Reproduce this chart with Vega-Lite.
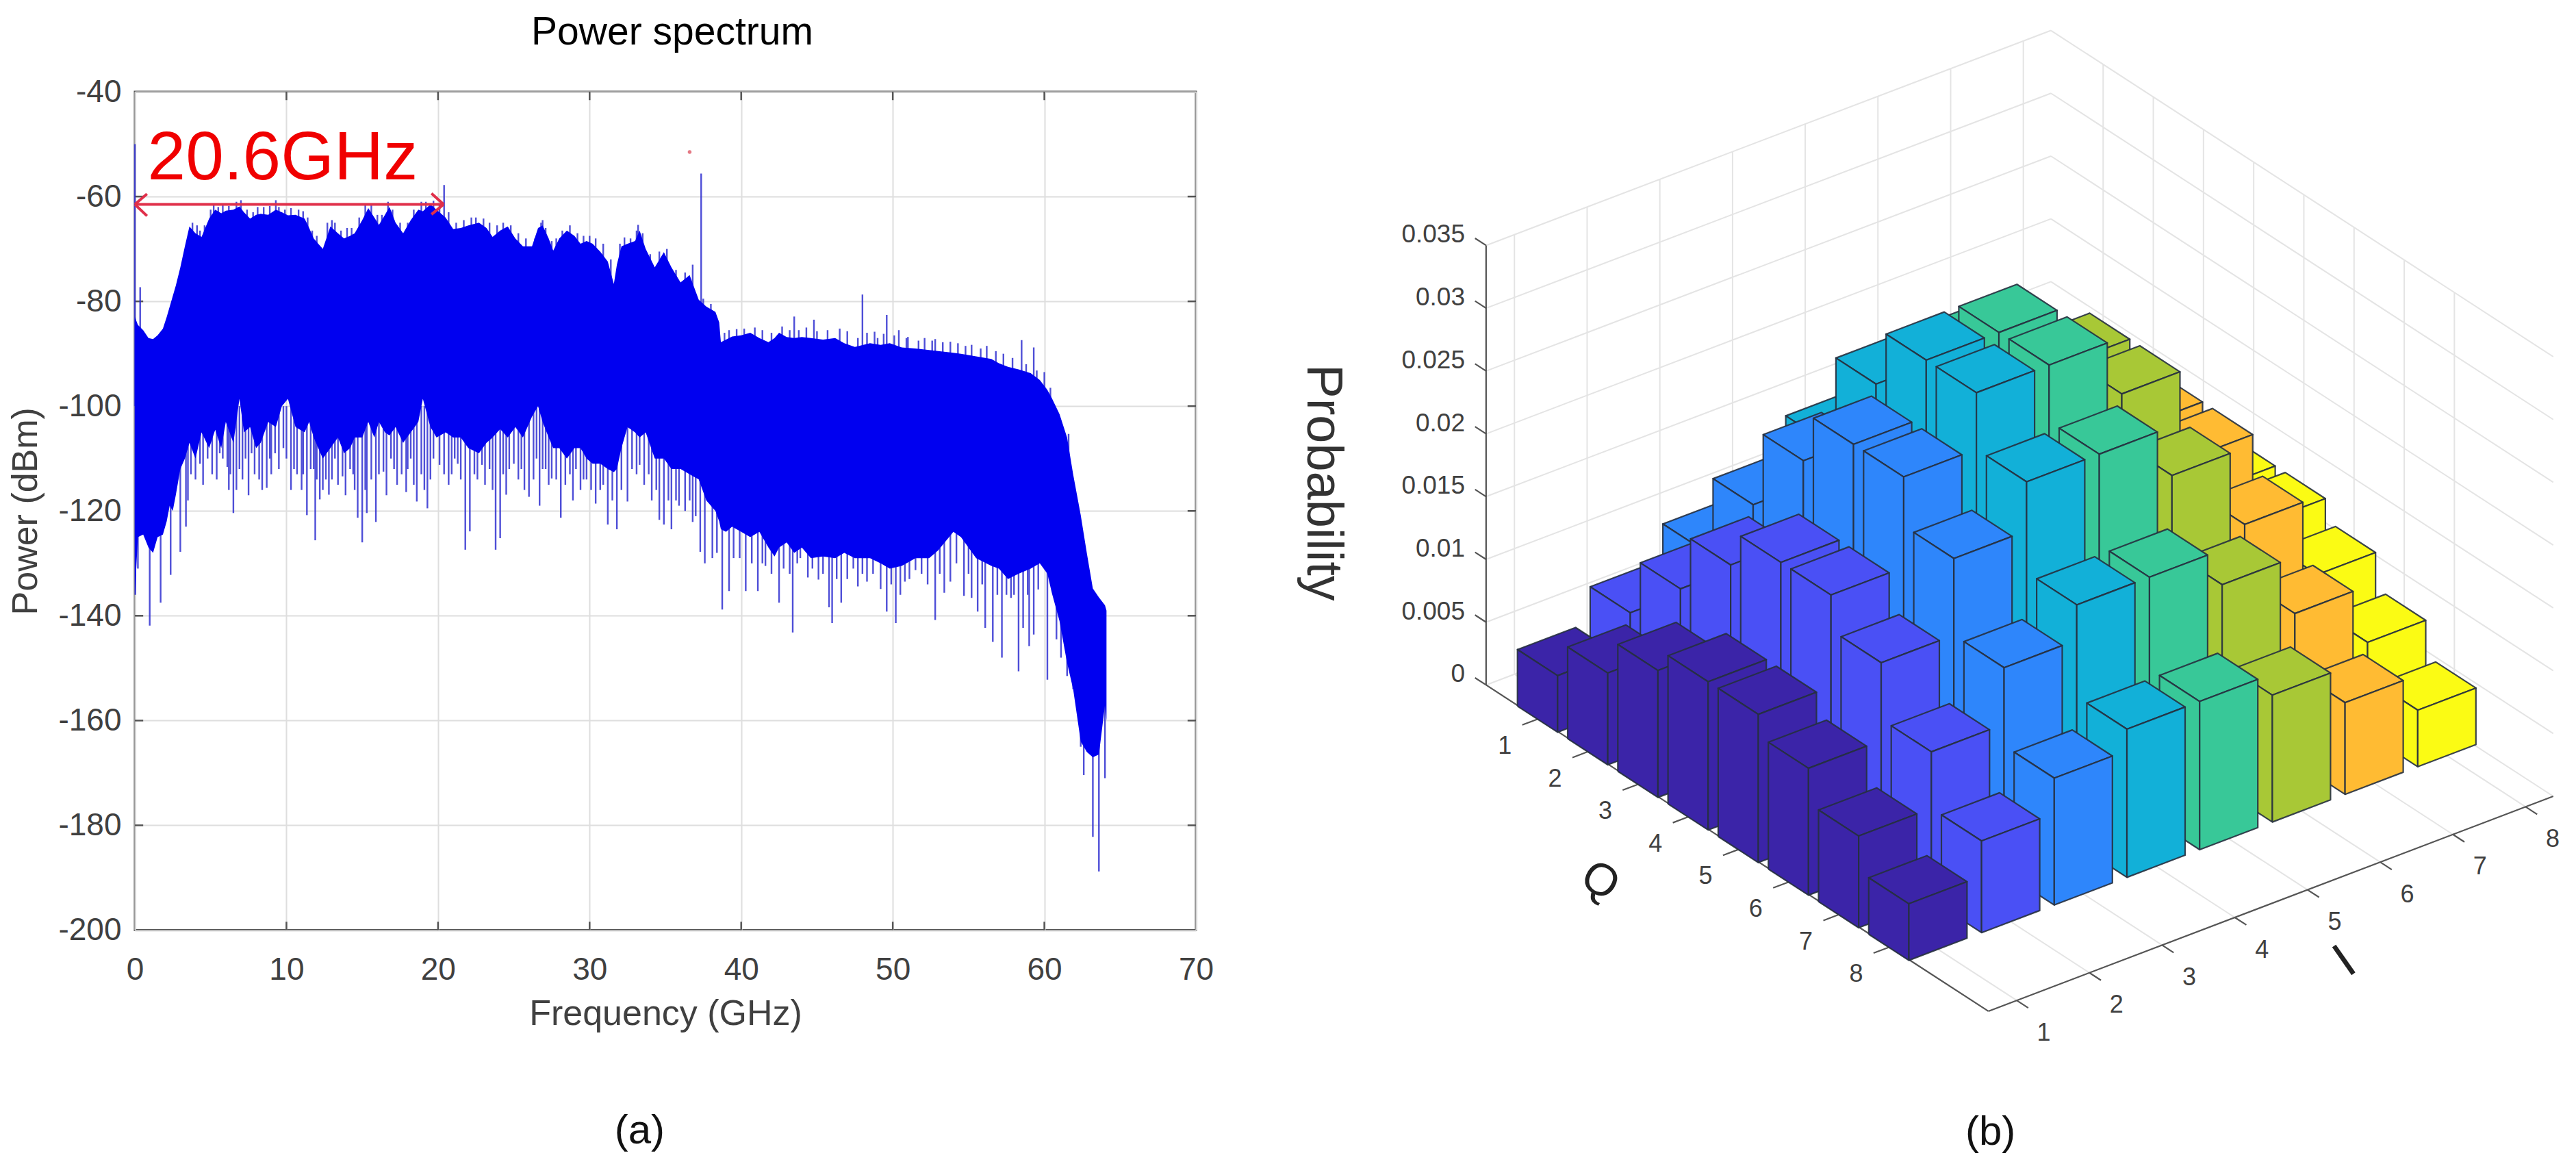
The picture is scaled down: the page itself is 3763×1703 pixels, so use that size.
{"$schema":"https://vega.github.io/schema/vega-lite/v6.json","background":"white","padding":{"left":10,"top":17,"right":0,"bottom":0},"bounds":"flush","spacing":51.5,"config":{"text":{"font":"Liberation Sans"},"title":{"font":"Liberation Sans"},"axis":{"labelFont":"Liberation Sans","titleFont":"Liberation Sans"}},
"datasets":{
"spectrum":[{"f":0,"p":-83,"p2":-136},{"f":0.2,"p":-84.5,"p2":-125},{"f":0.55,"p":-85.5,"p2":-124.5},{"f":0.9,"p":-87,"p2":-127},{"f":1.2,"p":-87.2,"p2":-128},{"f":1.5,"p":-86.5,"p2":-125},{"f":1.85,"p":-85.2,"p2":-124.5},{"f":2.1,"p":-83,"p2":-122},{"f":2.3,"p":-81,"p2":-119},{"f":2.5,"p":-79,"p2":-120},{"f":2.7,"p":-77,"p2":-117},{"f":3,"p":-73.5,"p2":-112},{"f":3.3,"p":-69.5,"p2":-110},{"f":3.6,"p":-65.7,"p2":-107},{"f":4,"p":-67,"p2":-110},{"f":4.4,"p":-67.7,"p2":-105},{"f":4.9,"p":-64.2,"p2":-108},{"f":5.3,"p":-62.5,"p2":-104.5},{"f":5.7,"p":-63.2,"p2":-108},{"f":6,"p":-62.7,"p2":-103},{"f":6.5,"p":-62.5,"p2":-107},{"f":6.9,"p":-61.9,"p2":-98.6},{"f":7.2,"p":-63,"p2":-105},{"f":7.6,"p":-64.2,"p2":-104},{"f":8,"p":-63.5,"p2":-108},{"f":8.3,"p":-63.3,"p2":-107},{"f":8.8,"p":-63.5,"p2":-103},{"f":9.3,"p":-62.5,"p2":-104},{"f":9.7,"p":-63,"p2":-100},{"f":10.1,"p":-63.6,"p2":-98.6},{"f":10.6,"p":-63.5,"p2":-104},{"f":11.2,"p":-64.2,"p2":-105},{"f":11.5,"p":-66,"p2":-103},{"f":11.8,"p":-68,"p2":-106},{"f":12.1,"p":-69,"p2":-108},{"f":12.4,"p":-70,"p2":-110},{"f":12.9,"p":-65.7,"p2":-108},{"f":13.4,"p":-67,"p2":-106},{"f":13.8,"p":-68,"p2":-109},{"f":14.2,"p":-67.5,"p2":-108},{"f":14.5,"p":-67,"p2":-106},{"f":15,"p":-64.5,"p2":-106},{"f":15.4,"p":-62.2,"p2":-103},{"f":15.8,"p":-64,"p2":-106},{"f":16.1,"p":-65.4,"p2":-103},{"f":16.5,"p":-63.5,"p2":-105},{"f":16.8,"p":-62,"p2":-105.6},{"f":17.2,"p":-65,"p2":-104},{"f":17.7,"p":-67,"p2":-107},{"f":18.2,"p":-64.5,"p2":-105},{"f":18.7,"p":-62.5,"p2":-103},{"f":19,"p":-62.8,"p2":-98.6},{"f":19.5,"p":-61.5,"p2":-104},{"f":19.9,"p":-62.5,"p2":-106},{"f":20.5,"p":-64,"p2":-105},{"f":21,"p":-66.2,"p2":-106},{"f":21.5,"p":-66,"p2":-106},{"f":22,"p":-65.5,"p2":-108},{"f":22.7,"p":-65,"p2":-109},{"f":23.2,"p":-66,"p2":-107},{"f":23.6,"p":-67.7,"p2":-106},{"f":24.1,"p":-66.5,"p2":-104.4},{"f":24.6,"p":-65.7,"p2":-106},{"f":25.1,"p":-68,"p2":-104},{"f":25.6,"p":-69.5,"p2":-106},{"f":26.2,"p":-69.5,"p2":-102},{"f":26.6,"p":-66,"p2":-100},{"f":26.9,"p":-65.5,"p2":-103},{"f":27.3,"p":-68,"p2":-106},{"f":27.6,"p":-70.3,"p2":-108},{"f":28,"p":-68,"p2":-108},{"f":28.5,"p":-66.5,"p2":-110},{"f":29,"p":-67.5,"p2":-108},{"f":29.4,"p":-69,"p2":-108},{"f":29.8,"p":-68.5,"p2":-110},{"f":30.2,"p":-69,"p2":-111},{"f":30.7,"p":-70.5,"p2":-111},{"f":31.2,"p":-72.4,"p2":-112},{"f":31.6,"p":-76.7,"p2":-112.6},{"f":31.8,"p":-73,"p2":-112},{"f":32.1,"p":-69.5,"p2":-108},{"f":32.5,"p":-69,"p2":-104},{"f":33,"p":-68.5,"p2":-105},{"f":33.3,"p":-66.5,"p2":-106},{"f":33.7,"p":-70,"p2":-105},{"f":34.3,"p":-73.5,"p2":-110},{"f":34.9,"p":-70.6,"p2":-110},{"f":35.4,"p":-73.5,"p2":-112},{"f":36,"p":-76.4,"p2":-112},{"f":36.6,"p":-75,"p2":-113},{"f":37.2,"p":-79.7,"p2":-114},{"f":37.7,"p":-81,"p2":-118},{"f":38.3,"p":-82,"p2":-120},{"f":38.55,"p":-84,"p2":-122},{"f":38.66,"p":-87.8,"p2":-123.5},{"f":39,"p":-87.3,"p2":-124},{"f":39.4,"p":-86.7,"p2":-123},{"f":40,"p":-86.5,"p2":-124},{"f":40.6,"p":-86,"p2":-125},{"f":41.2,"p":-87,"p2":-124},{"f":41.8,"p":-87.8,"p2":-127},{"f":42.2,"p":-87,"p2":-128.7},{"f":42.5,"p":-86,"p2":-127},{"f":43,"p":-86.8,"p2":-126},{"f":43.5,"p":-87,"p2":-128},{"f":44,"p":-86.8,"p2":-127},{"f":44.6,"p":-87,"p2":-129},{"f":45.4,"p":-87.3,"p2":-128.7},{"f":46.2,"p":-87,"p2":-129},{"f":46.8,"p":-88,"p2":-128},{"f":47.5,"p":-88.7,"p2":-129},{"f":48.5,"p":-88,"p2":-129},{"f":49.2,"p":-88.3,"p2":-130},{"f":49.8,"p":-88,"p2":-131},{"f":50.6,"p":-88.8,"p2":-130.5},{"f":51.5,"p":-89,"p2":-129},{"f":52.4,"p":-89.3,"p2":-129},{"f":53,"p":-89.5,"p2":-127.5},{"f":54,"p":-89.8,"p2":-124},{"f":54.5,"p":-90,"p2":-125},{"f":55.5,"p":-90.5,"p2":-129},{"f":56.5,"p":-91,"p2":-130.5},{"f":57,"p":-91.8,"p2":-131},{"f":57.6,"p":-92.5,"p2":-133},{"f":58.3,"p":-93,"p2":-132},{"f":59.1,"p":-93.7,"p2":-131},{"f":59.7,"p":-95,"p2":-130},{"f":60.2,"p":-96.9,"p2":-132},{"f":60.5,"p":-98.5,"p2":-135.7},{"f":61,"p":-101.5,"p2":-141},{"f":61.5,"p":-106,"p2":-149},{"f":61.9,"p":-113,"p2":-154},{"f":62.4,"p":-120.8,"p2":-164},{"f":62.8,"p":-128,"p2":-166},{"f":63.2,"p":-134.8,"p2":-167},{"f":63.6,"p":-136.5,"p2":-166.5},{"f":64,"p":-138,"p2":-157},{"f":64.1,"p":-139,"p2":-160}],
"spikes":[{"f":0,"p":-50,"p2":-100},{"f":0.35,"p":-77.3,"p2":-100},{"f":20.4,"p":-57.8,"p2":-80},{"f":9.3,"p":-60.7,"p2":-80},{"f":26.9,"p":-64.5,"p2":-80},{"f":33.2,"p":-65.4,"p2":-80},{"f":37.36,"p":-55.6,"p2":-90},{"f":43.5,"p":-82.9,"p2":-100},{"f":44.8,"p":-83.5,"p2":-100},{"f":48,"p":-78.7,"p2":-100},{"f":48.8,"p":-85.8,"p2":-100},{"f":49.6,"p":-82.6,"p2":-100},{"f":50.9,"p":-87,"p2":-100},{"f":52.8,"p":-87.2,"p2":-100},{"f":58.5,"p":-87.4,"p2":-100},{"f":59.3,"p":-88.8,"p2":-100},{"f":61.6,"p":-105.3,"p2":-120},
{"f":3.8,"p":-65,"p2":-80},{"f":4.1,"p":-65.5,"p2":-80},{"f":4.3,"p":-66.5,"p2":-80},{"f":4.6,"p":-65.5,"p2":-80},{"f":5,"p":-62.5,"p2":-80},{"f":5.2,"p":-61.5,"p2":-80},{"f":5.5,"p":-62,"p2":-80},{"f":5.8,"p":-61.5,"p2":-80},{"f":6.2,"p":-61.8,"p2":-80},{"f":6.7,"p":-61,"p2":-80},{"f":7,"p":-60.7,"p2":-80},{"f":7.4,"p":-62.5,"p2":-80},{"f":7.8,"p":-63,"p2":-80},{"f":8.1,"p":-62,"p2":-80},{"f":8.5,"p":-62,"p2":-80},{"f":8.9,"p":-61.8,"p2":-80},{"f":9.5,"p":-62,"p2":-80},{"f":9.9,"p":-62.5,"p2":-80},{"f":10.3,"p":-62.2,"p2":-80},{"f":10.8,"p":-62.5,"p2":-80},{"f":11.1,"p":-62.8,"p2":-80},{"f":11.4,"p":-64,"p2":-80},{"f":11.7,"p":-66.5,"p2":-80},{"f":12,"p":-67.5,"p2":-80},{"f":12.7,"p":-65,"p2":-80},{"f":13,"p":-64.5,"p2":-80},{"f":13.2,"p":-65,"p2":-80},{"f":13.6,"p":-66.5,"p2":-80},{"f":14,"p":-66,"p2":-80},{"f":14.3,"p":-66,"p2":-80},{"f":14.8,"p":-64,"p2":-80},{"f":15.2,"p":-61.5,"p2":-80},{"f":15.6,"p":-61.5,"p2":-80},{"f":16,"p":-63.5,"p2":-80},{"f":16.3,"p":-63.5,"p2":-80},{"f":16.7,"p":-61,"p2":-80},{"f":17,"p":-62.5,"p2":-80},{"f":17.5,"p":-65,"p2":-80},{"f":18,"p":-65,"p2":-80},{"f":18.4,"p":-62.5,"p2":-80},{"f":18.9,"p":-61,"p2":-80},{"f":19.2,"p":-61,"p2":-80},{"f":19.7,"p":-60.8,"p2":-80},{"f":20.1,"p":-61.5,"p2":-80},{"f":20.7,"p":-63,"p2":-80},{"f":21.2,"p":-65,"p2":-80},{"f":21.7,"p":-64.5,"p2":-80},{"f":22.2,"p":-64,"p2":-80},{"f":22.5,"p":-64,"p2":-80},{"f":23,"p":-64.2,"p2":-80},{"f":23.4,"p":-65,"p2":-80},{"f":23.9,"p":-65.5,"p2":-80},{"f":24.3,"p":-65,"p2":-80},{"f":24.8,"p":-65.5,"p2":-80},{"f":25.3,"p":-67,"p2":-80},{"f":25.8,"p":-68,"p2":-80},{"f":26.4,"p":-68,"p2":-80},{"f":26.8,"p":-65,"p2":-80},{"f":27.1,"p":-66,"p2":-80},{"f":27.5,"p":-68.5,"p2":-80},{"f":27.8,"p":-68,"p2":-80},{"f":28.2,"p":-66.5,"p2":-80},{"f":28.7,"p":-65.5,"p2":-80},{"f":29.2,"p":-67,"p2":-80},{"f":29.6,"p":-67.5,"p2":-80},{"f":30,"p":-67.5,"p2":-80},{"f":30.4,"p":-68,"p2":-80},{"f":30.9,"p":-69,"p2":-80},{"f":31.4,"p":-72,"p2":-80},{"f":32,"p":-69,"p2":-80},{"f":32.3,"p":-67.8,"p2":-80},{"f":32.7,"p":-68,"p2":-80},{"f":33.1,"p":-66.5,"p2":-80},{"f":33.5,"p":-67,"p2":-80},{"f":34,"p":-71,"p2":-80},{"f":34.6,"p":-70.5,"p2":-80},{"f":35.1,"p":-70,"p2":-80},{"f":35.7,"p":-74,"p2":-85},{"f":36.3,"p":-74.5,"p2":-85},{"f":36.8,"p":-73,"p2":-85},{"f":37.5,"p":-79.5,"p2":-90},{"f":38,"p":-80.5,"p2":-90},
{"f":38.9,"p":-86,"p2":-95},{"f":39.2,"p":-85.5,"p2":-95},{"f":39.7,"p":-85.3,"p2":-95},{"f":40.2,"p":-85.2,"p2":-95},{"f":40.9,"p":-85,"p2":-95},{"f":41.4,"p":-85.5,"p2":-95},{"f":42,"p":-86,"p2":-95},{"f":42.7,"p":-84.8,"p2":-95},{"f":43.2,"p":-85.5,"p2":-95},{"f":43.8,"p":-85.5,"p2":-95},{"f":44.3,"p":-85,"p2":-95},{"f":45,"p":-85.7,"p2":-95},{"f":45.7,"p":-85.5,"p2":-95},{"f":46.5,"p":-85.2,"p2":-95},{"f":47,"p":-85.7,"p2":-95},{"f":47.7,"p":-87,"p2":-95},{"f":48.3,"p":-86,"p2":-95},{"f":49,"p":-87,"p2":-95},{"f":49.4,"p":-86.2,"p2":-95},{"f":50.1,"p":-86.5,"p2":-95},{"f":50.4,"p":-85.5,"p2":-95},{"f":51,"p":-86.8,"p2":-95},{"f":51.7,"p":-87.5,"p2":-95},{"f":52.1,"p":-87,"p2":-95},{"f":52.6,"p":-87.5,"p2":-95},{"f":53.3,"p":-87.8,"p2":-95},{"f":53.8,"p":-87.7,"p2":-95},{"f":54.3,"p":-88,"p2":-95},{"f":54.8,"p":-88.5,"p2":-95},{"f":55.2,"p":-88.3,"p2":-95},{"f":55.8,"p":-89,"p2":-95},{"f":56.2,"p":-88.5,"p2":-95},{"f":56.8,"p":-89.5,"p2":-95},{"f":57.3,"p":-90,"p2":-95},{"f":57.9,"p":-90.8,"p2":-95},{"f":58.8,"p":-92,"p2":-98},{"f":59.5,"p":-93.2,"p2":-98},{"f":60,"p":-93.5,"p2":-100},{"f":60.4,"p":-96.5,"p2":-105},
{"f":0.03,"p":-100,"p2":-136},{"f":0.2,"p":-100,"p2":-131},{"f":0.98,"p":-100,"p2":-141.9},{"f":1.7,"p":-100,"p2":-137.5},{"f":2.36,"p":-100,"p2":-132.2},{"f":3,"p":-100,"p2":-127.8},{"f":3.37,"p":-100,"p2":-123},{"f":3.7,"p":-100,"p2":-113},{"f":4.5,"p":-100,"p2":-115},{"f":4.8,"p":-100,"p2":-110},{"f":5.1,"p":-100,"p2":-113},{"f":5.6,"p":-100,"p2":-109},{"f":6.1,"p":-100,"p2":-111.6},{"f":6.3,"p":-100,"p2":-113},{"f":6.5,"p":-100,"p2":-120.4},{"f":6.7,"p":-100,"p2":-116},{"f":7.1,"p":-100,"p2":-114},{"f":7.7,"p":-100,"p2":-109},{"f":8.2,"p":-100,"p2":-114},{"f":8.7,"p":-100,"p2":-115.6},{"f":9.25,"p":-100,"p2":-109},{"f":9.8,"p":-100,"p2":-108},{"f":10.3,"p":-100,"p2":-116},{"f":11,"p":-100,"p2":-116},{"f":11.35,"p":-100,"p2":-120.8},{"f":11.6,"p":-100,"p2":-112},{"f":11.9,"p":-100,"p2":-125.6},{"f":12.2,"p":-100,"p2":-117.8},{"f":12.8,"p":-100,"p2":-116.9},{"f":13.2,"p":-100,"p2":-110},{"f":13.7,"p":-100,"p2":-113.4},{"f":14.2,"p":-100,"p2":-112},{"f":14.7,"p":-100,"p2":-121.3},{"f":15,"p":-100,"p2":-126},{"f":15.3,"p":-100,"p2":-120.4},{"f":15.9,"p":-100,"p2":-122.1},{"f":16.4,"p":-100,"p2":-112.5},{"f":16.9,"p":-100,"p2":-110},{"f":17.3,"p":-100,"p2":-115},{"f":17.9,"p":-100,"p2":-116.4},{"f":18.2,"p":-100,"p2":-110},{"f":18.6,"p":-100,"p2":-118.2},{"f":19.3,"p":-100,"p2":-119.5},{"f":19.7,"p":-100,"p2":-110},{"f":20.1,"p":-100,"p2":-111.2},{"f":20.9,"p":-100,"p2":-113},{"f":21.3,"p":-100,"p2":-111},{"f":21.8,"p":-100,"p2":-127.4},{"f":22.1,"p":-100,"p2":-123.9},{"f":22.9,"p":-100,"p2":-111.2},{"f":23.4,"p":-100,"p2":-112},{"f":23.8,"p":-100,"p2":-127.4},{"f":24.1,"p":-100,"p2":-125.2},{"f":24.5,"p":-100,"p2":-116.9},{"f":25,"p":-100,"p2":-111},{"f":25.5,"p":-100,"p2":-112},{"f":26,"p":-100,"p2":-117.3},{"f":26.7,"p":-100,"p2":-119},{"f":27.1,"p":-100,"p2":-112},{"f":27.5,"p":-100,"p2":-113.8},{"f":28.1,"p":-100,"p2":-121.3},{"f":28.7,"p":-100,"p2":-113},{"f":29.1,"p":-100,"p2":-112},{"f":29.8,"p":-100,"p2":-114},{"f":30.4,"p":-100,"p2":-118.6},{"f":30.9,"p":-100,"p2":-115},{"f":31.2,"p":-100,"p2":-122.6},{"f":31.8,"p":-100,"p2":-123.5},{"f":32.5,"p":-100,"p2":-118.2},{"f":33.3,"p":-100,"p2":-111.2},{"f":33.9,"p":-100,"p2":-113},{"f":34.6,"p":-100,"p2":-121.7},{"f":34.9,"p":-100,"p2":-122.6},{"f":35.4,"p":-100,"p2":-123.5},{"f":35.9,"p":-100,"p2":-119},{"f":36.8,"p":-100,"p2":-122.1},{"f":37.3,"p":-100,"p2":-127.8},{"f":37.6,"p":-100,"p2":-130},{"f":38.1,"p":-100,"p2":-129},{"f":38.75,"p":-100,"p2":-138.8},{"f":39.2,"p":-100,"p2":-135.3},{"f":39.9,"p":-100,"p2":-129},{"f":40.3,"p":-100,"p2":-135.3},{"f":41.1,"p":-100,"p2":-135.3},{"f":41.6,"p":-100,"p2":-130.5},{"f":42.5,"p":-100,"p2":-137.5},{"f":43.4,"p":-100,"p2":-143.2},{"f":43.9,"p":-100,"p2":-129},{"f":44.4,"p":-100,"p2":-132.7},{"f":45.1,"p":-100,"p2":-133.1},{"f":45.8,"p":-100,"p2":-138.4},{"f":46,"p":-100,"p2":-141.4},{"f":46.6,"p":-100,"p2":-137.5},{"f":47.7,"p":-100,"p2":-134.4},{"f":48.3,"p":-100,"p2":-133.5},{"f":49.2,"p":-100,"p2":-134.9},{"f":49.6,"p":-100,"p2":-139.2},{"f":50.2,"p":-100,"p2":-141.4},{"f":50.8,"p":-100,"p2":-133.5},{"f":51.5,"p":-100,"p2":-131.3},{"f":52.8,"p":-100,"p2":-140.8},{"f":53.4,"p":-100,"p2":-135.6},{"f":53.8,"p":-100,"p2":-133.5},{"f":54.7,"p":-100,"p2":-136.2},{"f":55.2,"p":-100,"p2":-136.6},{"f":55.6,"p":-100,"p2":-139.2},{"f":56.1,"p":-100,"p2":-142.3},{"f":56.6,"p":-100,"p2":-145},{"f":57.2,"p":-100,"p2":-148},{"f":57.8,"p":-100,"p2":-136.6},{"f":58.3,"p":-100,"p2":-150.6},{"f":58.6,"p":-100,"p2":-142.3},{"f":59,"p":-100,"p2":-145.8},{"f":59.3,"p":-100,"p2":-143.6},{"f":60.2,"p":-110,"p2":-152.2},{"f":60.8,"p":-110,"p2":-144.5},{"f":61.1,"p":-120,"p2":-148},{"f":61.5,"p":-120,"p2":-151.5},{"f":61.9,"p":-125,"p2":-154},{"f":62.4,"p":-140,"p2":-165},{"f":62.6,"p":-140,"p2":-170.4},{"f":63.2,"p":-150,"p2":-182.2},{"f":63.6,"p":-150,"p2":-188.8},{"f":64,"p":-145,"p2":-171},
{"f":3.5,"p":-100,"p2":-118},{"f":4,"p":-100,"p2":-114},{"f":4.3,"p":-100,"p2":-111},{"f":5.4,"p":-100,"p2":-114},{"f":5.8,"p":-100,"p2":-110},{"f":6.2,"p":-100,"p2":-116},{"f":6.9,"p":-100,"p2":-112},{"f":7.3,"p":-100,"p2":-110},{"f":7.5,"p":-100,"p2":-117},{"f":7.9,"p":-100,"p2":-113},{"f":8.4,"p":-100,"p2":-116},{"f":8.9,"p":-100,"p2":-110},{"f":9,"p":-100,"p2":-113},{"f":9.5,"p":-100,"p2":-112},{"f":10,"p":-100,"p2":-110},{"f":10.5,"p":-100,"p2":-112},{"f":10.7,"p":-100,"p2":-113},{"f":11.1,"p":-100,"p2":-113},{"f":11.8,"p":-100,"p2":-112},{"f":12,"p":-100,"p2":-114},{"f":12.4,"p":-100,"p2":-116},{"f":12.6,"p":-100,"p2":-114},{"f":13,"p":-100,"p2":-114},{"f":13.4,"p":-100,"p2":-115},{"f":13.9,"p":-100,"p2":-117},{"f":14.4,"p":-100,"p2":-113},{"f":14.5,"p":-100,"p2":-116},{"f":15.2,"p":-100,"p2":-116},{"f":15.6,"p":-100,"p2":-114},{"f":16.1,"p":-100,"p2":-113},{"f":16.6,"p":-100,"p2":-117},{"f":17.1,"p":-100,"p2":-112},{"f":17.6,"p":-100,"p2":-113},{"f":18,"p":-100,"p2":-112},{"f":18.4,"p":-100,"p2":-115},{"f":18.9,"p":-100,"p2":-113},{"f":19.1,"p":-100,"p2":-116},{"f":19.5,"p":-100,"p2":-114},{"f":20.4,"p":-100,"p2":-113},{"f":20.7,"p":-100,"p2":-115},{"f":21.1,"p":-100,"p2":-110},{"f":21.5,"p":-100,"p2":-114},{"f":22.4,"p":-100,"p2":-113},{"f":22.6,"p":-100,"p2":-114},{"f":23.1,"p":-100,"p2":-115},{"f":23.6,"p":-100,"p2":-116},{"f":24.3,"p":-100,"p2":-113},{"f":24.7,"p":-100,"p2":-112},{"f":25.3,"p":-100,"p2":-114},{"f":25.7,"p":-100,"p2":-116},{"f":26.3,"p":-100,"p2":-114},{"f":26.5,"p":-100,"p2":-110},{"f":26.9,"p":-100,"p2":-112},{"f":27.3,"p":-100,"p2":-115},{"f":27.8,"p":-100,"p2":-114},{"f":28.4,"p":-100,"p2":-115},{"f":28.9,"p":-100,"p2":-118},{"f":29.4,"p":-100,"p2":-116},{"f":29.6,"p":-100,"p2":-114},{"f":30.1,"p":-100,"p2":-116},{"f":30.7,"p":-100,"p2":-116},{"f":31.5,"p":-100,"p2":-118},{"f":32.1,"p":-100,"p2":-116},{"f":32.8,"p":-100,"p2":-112},{"f":33.1,"p":-100,"p2":-113},{"f":33.6,"p":-100,"p2":-115},{"f":34.1,"p":-100,"p2":-118},{"f":34.4,"p":-100,"p2":-116},{"f":35.2,"p":-100,"p2":-118},{"f":35.7,"p":-100,"p2":-118},{"f":36.3,"p":-100,"p2":-120},{"f":36.6,"p":-100,"p2":-118},{"f":37,"p":-100,"p2":-121},
{"f":38.4,"p":-100,"p2":-128},{"f":39.5,"p":-100,"p2":-129},{"f":40.7,"p":-100,"p2":-130},{"f":41.4,"p":-100,"p2":-130},{"f":42,"p":-100,"p2":-132},{"f":42.8,"p":-100,"p2":-131},{"f":43.2,"p":-100,"p2":-132},{"f":43.7,"p":-100,"p2":-130},{"f":44.7,"p":-100,"p2":-131},{"f":45.4,"p":-100,"p2":-132},{"f":46.3,"p":-100,"p2":-133},{"f":47,"p":-100,"p2":-133},{"f":47.4,"p":-100,"p2":-131},{"f":48,"p":-100,"p2":-132},{"f":48.7,"p":-100,"p2":-132},{"f":49.9,"p":-100,"p2":-134},{"f":50.5,"p":-100,"p2":-136},{"f":51.1,"p":-100,"p2":-133},{"f":51.9,"p":-100,"p2":-132},{"f":52.3,"p":-100,"p2":-134},{"f":53.1,"p":-100,"p2":-132},{"f":54.2,"p":-100,"p2":-130},{"f":55,"p":-100,"p2":-132},{"f":55.9,"p":-100,"p2":-134},{"f":56.9,"p":-100,"p2":-136},{"f":57.5,"p":-100,"p2":-136},{"f":58,"p":-100,"p2":-136},{"f":58.9,"p":-100,"p2":-136},{"f":59.6,"p":-100,"p2":-135}],
"frameticks":[{"f":10,"p":-200,"f2":10,"p2":-198.4},{"f":20,"p":-200,"f2":20,"p2":-198.4},{"f":30,"p":-200,"f2":30,"p2":-198.4},{"f":40,"p":-200,"f2":40,"p2":-198.4},{"f":50,"p":-200,"f2":50,"p2":-198.4},{"f":60,"p":-200,"f2":60,"p2":-198.4},{"f":10,"p":-40,"f2":10,"p2":-41.6},{"f":20,"p":-40,"f2":20,"p2":-41.6},{"f":30,"p":-40,"f2":30,"p2":-41.6},{"f":40,"p":-40,"f2":40,"p2":-41.6},{"f":50,"p":-40,"f2":50,"p2":-41.6},{"f":60,"p":-40,"f2":60,"p2":-41.6},{"f":0,"p":-60,"f2":0.55,"p2":-60},{"f":0,"p":-80,"f2":0.55,"p2":-80},{"f":0,"p":-100,"f2":0.55,"p2":-100},{"f":0,"p":-120,"f2":0.55,"p2":-120},{"f":0,"p":-140,"f2":0.55,"p2":-140},{"f":0,"p":-160,"f2":0.55,"p2":-160},{"f":0,"p":-180,"f2":0.55,"p2":-180},{"f":70,"p":-60,"f2":69.45,"p2":-60},{"f":70,"p":-80,"f2":69.45,"p2":-80},{"f":70,"p":-100,"f2":69.45,"p2":-100},{"f":70,"p":-120,"f2":69.45,"p2":-120},{"f":70,"p":-140,"f2":69.45,"p2":-140},{"f":70,"p":-160,"f2":69.45,"p2":-160},{"f":70,"p":-180,"f2":69.45,"p2":-180}],
"arrow":[{"f":0,"p":-61.5,"f2":20.37,"p2":-61.5},{"f":0,"p":-61.5,"f2":0.8,"p2":-59.5},{"f":0,"p":-61.5,"f2":0.8,"p2":-63.7},{"f":20.37,"p":-61.5,"f2":19.57,"p2":-59.4},{"f":20.37,"p":-61.5,"f2":19.57,"p2":-63.4}],
"bars":[{"I":8,"Q":1,"prob":0.0045},{"I":7,"Q":1,"prob":0.0073},{"I":6,"Q":1,"prob":0.0101},{"I":5,"Q":1,"prob":0.0118},{"I":4,"Q":1,"prob":0.0118},{"I":3,"Q":1,"prob":0.0101},{"I":2,"Q":1,"prob":0.0073},{"I":1,"Q":1,"prob":0.0045},{"I":8,"Q":2,"prob":0.0073},{"I":7,"Q":2,"prob":0.0118},{"I":6,"Q":2,"prob":0.0163},{"I":5,"Q":2,"prob":0.0191},{"I":4,"Q":2,"prob":0.0191},{"I":3,"Q":2,"prob":0.0163},{"I":2,"Q":2,"prob":0.0118},{"I":1,"Q":2,"prob":0.0073},{"I":8,"Q":3,"prob":0.0101},{"I":7,"Q":3,"prob":0.0163},{"I":6,"Q":3,"prob":0.0224},{"I":5,"Q":3,"prob":0.0263},{"I":4,"Q":3,"prob":0.0263},{"I":3,"Q":3,"prob":0.0224},{"I":2,"Q":3,"prob":0.0163},{"I":1,"Q":3,"prob":0.0101},{"I":8,"Q":4,"prob":0.0118},{"I":7,"Q":4,"prob":0.0191},{"I":6,"Q":4,"prob":0.0263},{"I":5,"Q":4,"prob":0.0308},{"I":4,"Q":4,"prob":0.0308},{"I":3,"Q":4,"prob":0.0263},{"I":2,"Q":4,"prob":0.0191},{"I":1,"Q":4,"prob":0.0118},{"I":8,"Q":5,"prob":0.0118},{"I":7,"Q":5,"prob":0.0191},{"I":6,"Q":5,"prob":0.0263},{"I":5,"Q":5,"prob":0.0308},{"I":4,"Q":5,"prob":0.0308},{"I":3,"Q":5,"prob":0.0263},{"I":2,"Q":5,"prob":0.0191},{"I":1,"Q":5,"prob":0.0118},{"I":8,"Q":6,"prob":0.0101},{"I":7,"Q":6,"prob":0.0163},{"I":6,"Q":6,"prob":0.0224},{"I":5,"Q":6,"prob":0.0263},{"I":4,"Q":6,"prob":0.0263},{"I":3,"Q":6,"prob":0.0224},{"I":2,"Q":6,"prob":0.0163},{"I":1,"Q":6,"prob":0.0101},{"I":8,"Q":7,"prob":0.0073},{"I":7,"Q":7,"prob":0.0118},{"I":6,"Q":7,"prob":0.0163},{"I":5,"Q":7,"prob":0.0191},{"I":4,"Q":7,"prob":0.0191},{"I":3,"Q":7,"prob":0.0163},{"I":2,"Q":7,"prob":0.0118},{"I":1,"Q":7,"prob":0.0073},{"I":8,"Q":8,"prob":0.0045},{"I":7,"Q":8,"prob":0.0073},{"I":6,"Q":8,"prob":0.0101},{"I":5,"Q":8,"prob":0.0118},{"I":4,"Q":8,"prob":0.0118},{"I":3,"Q":8,"prob":0.0101},{"I":2,"Q":8,"prob":0.0073},{"I":1,"Q":8,"prob":0.0045}],
"gridlines":[{"I":1,"Q":-0.04,"z":0,"I2":1,"Q2":9.97,"z2":0},{"I":2,"Q":-0.04,"z":0,"I2":2,"Q2":9.97,"z2":0},{"I":3,"Q":-0.04,"z":0,"I2":3,"Q2":9.97,"z2":0},{"I":4,"Q":-0.04,"z":0,"I2":4,"Q2":9.97,"z2":0},{"I":5,"Q":-0.04,"z":0,"I2":5,"Q2":9.97,"z2":0},{"I":6,"Q":-0.04,"z":0,"I2":6,"Q2":9.97,"z2":0},{"I":7,"Q":-0.04,"z":0,"I2":7,"Q2":9.97,"z2":0},{"I":8,"Q":-0.04,"z":0,"I2":8,"Q2":9.97,"z2":0},
{"I":0.61,"Q":1,"z":0,"I2":8.38,"Q2":1,"z2":0},{"I":0.61,"Q":2,"z":0,"I2":8.38,"Q2":2,"z2":0},{"I":0.61,"Q":3,"z":0,"I2":8.38,"Q2":3,"z2":0},{"I":0.61,"Q":4,"z":0,"I2":8.38,"Q2":4,"z2":0},{"I":0.61,"Q":5,"z":0,"I2":8.38,"Q2":5,"z2":0},{"I":0.61,"Q":6,"z":0,"I2":8.38,"Q2":6,"z2":0},{"I":0.61,"Q":7,"z":0,"I2":8.38,"Q2":7,"z2":0},{"I":0.61,"Q":8,"z":0,"I2":8.38,"Q2":8,"z2":0},
{"I":1,"Q":-0.04,"z":0,"I2":1,"Q2":-0.04,"z2":0.035},{"I":2,"Q":-0.04,"z":0,"I2":2,"Q2":-0.04,"z2":0.035},{"I":3,"Q":-0.04,"z":0,"I2":3,"Q2":-0.04,"z2":0.035},{"I":4,"Q":-0.04,"z":0,"I2":4,"Q2":-0.04,"z2":0.035},{"I":5,"Q":-0.04,"z":0,"I2":5,"Q2":-0.04,"z2":0.035},{"I":6,"Q":-0.04,"z":0,"I2":6,"Q2":-0.04,"z2":0.035},{"I":7,"Q":-0.04,"z":0,"I2":7,"Q2":-0.04,"z2":0.035},{"I":8,"Q":-0.04,"z":0,"I2":8,"Q2":-0.04,"z2":0.035},
{"I":8.38,"Q":1,"z":0,"I2":8.38,"Q2":1,"z2":0.035},{"I":8.38,"Q":2,"z":0,"I2":8.38,"Q2":2,"z2":0.035},{"I":8.38,"Q":3,"z":0,"I2":8.38,"Q2":3,"z2":0.035},{"I":8.38,"Q":4,"z":0,"I2":8.38,"Q2":4,"z2":0.035},{"I":8.38,"Q":5,"z":0,"I2":8.38,"Q2":5,"z2":0.035},{"I":8.38,"Q":6,"z":0,"I2":8.38,"Q2":6,"z2":0.035},{"I":8.38,"Q":7,"z":0,"I2":8.38,"Q2":7,"z2":0.035},{"I":8.38,"Q":8,"z":0,"I2":8.38,"Q2":8,"z2":0.035},
{"I":0.61,"Q":-0.04,"z":0,"I2":8.38,"Q2":-0.04,"z2":0},{"I":8.38,"Q":-0.04,"z":0,"I2":8.38,"Q2":9.97,"z2":0},{"I":0.61,"Q":-0.04,"z":0.005,"I2":8.38,"Q2":-0.04,"z2":0.005},{"I":8.38,"Q":-0.04,"z":0.005,"I2":8.38,"Q2":9.97,"z2":0.005},{"I":0.61,"Q":-0.04,"z":0.01,"I2":8.38,"Q2":-0.04,"z2":0.01},{"I":8.38,"Q":-0.04,"z":0.01,"I2":8.38,"Q2":9.97,"z2":0.01},{"I":0.61,"Q":-0.04,"z":0.015,"I2":8.38,"Q2":-0.04,"z2":0.015},{"I":8.38,"Q":-0.04,"z":0.015,"I2":8.38,"Q2":9.97,"z2":0.015},{"I":0.61,"Q":-0.04,"z":0.02,"I2":8.38,"Q2":-0.04,"z2":0.02},{"I":8.38,"Q":-0.04,"z":0.02,"I2":8.38,"Q2":9.97,"z2":0.02},{"I":0.61,"Q":-0.04,"z":0.025,"I2":8.38,"Q2":-0.04,"z2":0.025},{"I":8.38,"Q":-0.04,"z":0.025,"I2":8.38,"Q2":9.97,"z2":0.025},{"I":0.61,"Q":-0.04,"z":0.03,"I2":8.38,"Q2":-0.04,"z2":0.03},{"I":8.38,"Q":-0.04,"z":0.03,"I2":8.38,"Q2":9.97,"z2":0.03},{"I":0.61,"Q":-0.04,"z":0.035,"I2":8.38,"Q2":-0.04,"z2":0.035},{"I":8.38,"Q":-0.04,"z":0.035,"I2":8.38,"Q2":9.97,"z2":0.035}],
"axislines":[{"I":0.61,"Q":-0.04,"z":0,"I2":0.61,"Q2":9.97,"z2":0},{"I":0.61,"Q":9.97,"z":0,"I2":8.38,"Q2":9.97,"z2":0},{"I":0.61,"Q":-0.04,"z":0,"I2":0.61,"Q2":-0.04,"z2":0.035},
{"I":0.61,"Q":1,"z":0,"I2":0.39,"Q2":1,"z2":0},{"I":0.61,"Q":2,"z":0,"I2":0.39,"Q2":2,"z2":0},{"I":0.61,"Q":3,"z":0,"I2":0.39,"Q2":3,"z2":0},{"I":0.61,"Q":4,"z":0,"I2":0.39,"Q2":4,"z2":0},{"I":0.61,"Q":5,"z":0,"I2":0.39,"Q2":5,"z2":0},{"I":0.61,"Q":6,"z":0,"I2":0.39,"Q2":6,"z2":0},{"I":0.61,"Q":7,"z":0,"I2":0.39,"Q2":7,"z2":0},{"I":0.61,"Q":8,"z":0,"I2":0.39,"Q2":8,"z2":0},
{"I":1,"Q":9.97,"z":0,"I2":1,"Q2":10.2,"z2":0},{"I":2,"Q":9.97,"z":0,"I2":2,"Q2":10.2,"z2":0},{"I":3,"Q":9.97,"z":0,"I2":3,"Q2":10.2,"z2":0},{"I":4,"Q":9.97,"z":0,"I2":4,"Q2":10.2,"z2":0},{"I":5,"Q":9.97,"z":0,"I2":5,"Q2":10.2,"z2":0},{"I":6,"Q":9.97,"z":0,"I2":6,"Q2":10.2,"z2":0},{"I":7,"Q":9.97,"z":0,"I2":7,"Q2":10.2,"z2":0},{"I":8,"Q":9.97,"z":0,"I2":8,"Q2":10.2,"z2":0},
{"I":0.61,"Q":-0.04,"z":0,"I2":0.61,"Q2":-0.26,"z2":0},{"I":0.61,"Q":-0.04,"z":0.005,"I2":0.61,"Q2":-0.26,"z2":0.005},{"I":0.61,"Q":-0.04,"z":0.01,"I2":0.61,"Q2":-0.26,"z2":0.01},{"I":0.61,"Q":-0.04,"z":0.015,"I2":0.61,"Q2":-0.26,"z2":0.015},{"I":0.61,"Q":-0.04,"z":0.02,"I2":0.61,"Q2":-0.26,"z2":0.02},{"I":0.61,"Q":-0.04,"z":0.025,"I2":0.61,"Q2":-0.26,"z2":0.025},{"I":0.61,"Q":-0.04,"z":0.03,"I2":0.61,"Q2":-0.26,"z2":0.03},{"I":0.61,"Q":-0.04,"z":0.035,"I2":0.61,"Q2":-0.26,"z2":0.035}],
"ticklabels":[{"label":"1","I":-0.046,"Q":1.285,"z":0},{"label":"2","I":-0.046,"Q":2.285,"z":0},{"label":"3","I":-0.046,"Q":3.285,"z":0},{"label":"4","I":-0.046,"Q":4.285,"z":0},{"label":"5","I":-0.046,"Q":5.285,"z":0},{"label":"6","I":-0.046,"Q":6.285,"z":0},{"label":"7","I":-0.046,"Q":7.285,"z":0},{"label":"8","I":-0.046,"Q":8.285,"z":0},{"label":"1","I":0.8,"Q":10.8,"z":0},{"label":"2","I":1.8,"Q":10.8,"z":0},{"label":"3","I":2.8,"Q":10.8,"z":0},{"label":"4","I":3.8,"Q":10.8,"z":0},{"label":"5","I":4.8,"Q":10.8,"z":0},{"label":"6","I":5.8,"Q":10.8,"z":0},{"label":"7","I":6.8,"Q":10.8,"z":0},{"label":"8","I":7.8,"Q":10.8,"z":0}],
"zlabels":[{"label":"0","I":0.564,"Q":-0.394,"z":0},{"label":"0.005","I":0.564,"Q":-0.394,"z":0.005},{"label":"0.01","I":0.564,"Q":-0.394,"z":0.01},{"label":"0.015","I":0.564,"Q":-0.394,"z":0.015},{"label":"0.02","I":0.564,"Q":-0.394,"z":0.02},{"label":"0.025","I":0.564,"Q":-0.394,"z":0.025},{"label":"0.03","I":0.564,"Q":-0.394,"z":0.03},{"label":"0.035","I":0.564,"Q":-0.394,"z":0.035}]
},
"hconcat":[
{"width":1550,"height":1224.5,"view":{"stroke":"#555555","strokeWidth":3},
"title":{"text":"Power spectrum","fontSize":57,"fontWeight":"normal","color":"#000000","dx":10,"offset":34,"anchor":"middle"},
"encoding":{"x":{"field":"f","type":"quantitative","scale":{"domain":[0,70],"nice":false,"zero":false},"axis":{"values":[0,10,20,30,40,50,60,70],"labelExpr":"''+datum.value","title":"Frequency (GHz)","titleFontSize":52,"titleFontWeight":"normal","titleColor":"#404040","titlePadding":16,"labelFontSize":46,"labelColor":"#404040","labelPadding":36,"tickSize":0,"domain":false,"grid":true,"gridColor":"#dedede","gridWidth":2,"labelFlush":false,"labelOverlap":false}},
"y":{"field":"p","type":"quantitative","scale":{"domain":[-200,-40],"nice":false,"zero":false},"axis":{"values":[-40,-60,-80,-100,-120,-140,-160,-180,-200],"labelExpr":"''+datum.value","title":"Power (dBm)","titleFontSize":52,"titleFontWeight":"normal","titleColor":"#404040","titlePadding":20,"labelFontSize":46,"labelColor":"#404040","labelPadding":20,"tickSize":0,"domain":false,"grid":true,"gridColor":"#dedede","gridWidth":2,"labelFlush":false,"labelOverlap":false}}},
"layer":[
{"data":{"name":"frameticks"},"mark":{"type":"rule","color":"#555555","strokeWidth":2.5},"encoding":{"x2":{"field":"f2"},"y2":{"field":"p2"}}},
{"data":{"name":"spikes"},"mark":{"type":"rule","color":"#2f2fd0","strokeWidth":2.4,"opacity":0.85},"encoding":{"y2":{"field":"p2"}}},
{"data":{"name":"spectrum"},"mark":{"type":"area","color":"#0000f0","interpolate":"linear"},"encoding":{"y2":{"field":"p2"}}},
{"data":{"name":"arrow"},"mark":{"type":"rule","color":"#e0304a","strokeWidth":4},"encoding":{"x2":{"field":"f2"},"y2":{"field":"p2"}}},
{"data":{"values":[{"f":36.6,"p":-51.5}]},"mark":{"type":"point","filled":true,"color":"#d84050","size":30}},
{"data":{"values":[{"f":0.84,"p":-56.7,"note":"20.6GHz"}]},"mark":{"type":"text","color":"#f00000","fontSize":100,"align":"left","baseline":"alphabetic","font":"Liberation Sans"},"encoding":{"text":{"field":"note"}}},
{"data":{"values":[{"f":33.3,"p":-238.3,"note":"(a)"}]},"mark":{"type":"text","color":"#111111","fontSize":60,"align":"center","baseline":"middle","font":"Liberation Sans"},"encoding":{"text":{"field":"note"}}}
]},
{"width":1963,"height":1554,"view":{"stroke":null},
"encoding":{"x":{"field":"u","type":"quantitative","scale":{"domain":[1800,3763],"nice":false,"zero":false},"axis":null},"y":{"field":"v","type":"quantitative","scale":{"domain":[132,1686],"reverse":true,"nice":false,"zero":false},"axis":null}},
"layer":[
{"data":{"name":"gridlines"},"transform":[{"calculate":"2110.5+106.2*datum.I+73.3*datum.Q","as":"u"},{"calculate":"1025-40.4*datum.I+47.6*datum.Q-18343*datum.z","as":"v"},{"calculate":"2110.5+106.2*datum.I2+73.3*datum.Q2","as":"u2"},{"calculate":"1025-40.4*datum.I2+47.6*datum.Q2-18343*datum.z2","as":"v2"}],"mark":{"type":"rule","color":"#e4e4e4","strokeWidth":2},"encoding":{"x2":{"field":"u2"},"y2":{"field":"v2"}}},
{"data":{"name":"axislines"},"transform":[{"calculate":"2110.5+106.2*datum.I+73.3*datum.Q","as":"u"},{"calculate":"1025-40.4*datum.I+47.6*datum.Q-18343*datum.z","as":"v"},{"calculate":"2110.5+106.2*datum.I2+73.3*datum.Q2","as":"u2"},{"calculate":"1025-40.4*datum.I2+47.6*datum.Q2-18343*datum.z2","as":"v2"}],"mark":{"type":"rule","color":"#555555","strokeWidth":2.2},"encoding":{"x2":{"field":"u2"},"y2":{"field":"v2"}}},
{"data":{"name":"bars"},"transform":[{"calculate":"[0,1,2]","as":"face"},{"flatten":["face"]},{"calculate":"[0,1,2,3,4]","as":"vertex"},{"flatten":["vertex"]},{"calculate":"[[-0.4,0.4,0.4,-0.4,-0.4],[-0.4,-0.4,-0.4,-0.4,-0.4],[-0.4,0.4,0.4,-0.4,-0.4]][datum.face][datum.vertex]","as":"dI"},{"calculate":"[[0.4,0.4,-0.4,-0.4,0.4],[-0.4,0.4,0.4,-0.4,-0.4],[0.4,0.4,0.4,0.4,0.4]][datum.face][datum.vertex]","as":"dQ"},{"calculate":"[[1,1,1,1,1],[0,0,1,1,0],[0,0,1,1,0]][datum.face][datum.vertex]","as":"level"},{"calculate":"2110.5+106.2*(datum.I+datum.dI)+73.3*(datum.Q+datum.dQ)","as":"u"},{"calculate":"1025-40.4*(datum.I+datum.dI)+47.6*(datum.Q+datum.dQ)-18343*datum.prob*datum.level","as":"v"},{"calculate":"(datum.Q*8-datum.I+8)*3+datum.face","as":"poly"}],
"mark":{"type":"line","filled":true,"stroke":"#26303f","strokeWidth":2.2,"strokeOpacity":0.9,"strokeJoin":"round"},
"encoding":{"order":{"field":"vertex"},"detail":{"field":"poly"},"color":{"field":"I","type":"ordinal","legend":null,"scale":{"domain":[1,2,3,4,5,6,7,8],"range":["#3b24a8","#4a50f5","#2e86fb","#12b0d8","#38c898","#a8c836","#ffbb33","#fbfb14"]}}}},
{"data":{"name":"ticklabels"},"transform":[{"calculate":"2110.5+106.2*datum.I+73.3*datum.Q","as":"u"},{"calculate":"1025-40.4*datum.I+47.6*datum.Q-18343*datum.z","as":"v"}],"mark":{"type":"text","fontSize":36,"color":"#404040","align":"center","baseline":"middle","font":"Liberation Sans"},"encoding":{"text":{"field":"label"}}},
{"data":{"name":"zlabels"},"transform":[{"calculate":"2110.5+106.2*datum.I+73.3*datum.Q","as":"u"},{"calculate":"1025-40.4*datum.I+47.6*datum.Q-18343*datum.z","as":"v"}],"mark":{"type":"text","fontSize":37,"color":"#404040","align":"right","baseline":"middle","font":"Liberation Sans"},"encoding":{"text":{"field":"label"}}},
{"data":{"values":[{"label":"Probability","I":1.896,"Q":-5.155,"z":0}]},"transform":[{"calculate":"2110.5+106.2*datum.I+73.3*datum.Q","as":"u"},{"calculate":"1025-40.4*datum.I+47.6*datum.Q-18343*datum.z","as":"v"}],"mark":{"type":"text","fontSize":74,"color":"#333333","angle":90,"align":"center","baseline":"middle","font":"Liberation Sans"},"encoding":{"text":{"field":"label"}}},
{"data":{"values":[{"label":"Q","I":-1.022,"Q":4.595,"z":0}]},"transform":[{"calculate":"2110.5+106.2*datum.I+73.3*datum.Q","as":"u"},{"calculate":"1025-40.4*datum.I+47.6*datum.Q-18343*datum.z","as":"v"}],"mark":{"type":"text","fontSize":66,"color":"#222222","angle":32,"align":"center","baseline":"middle","font":"Liberation Sans"},"encoding":{"text":{"field":"label"}}},
{"data":{"values":[{"label":"I","I":4.367,"Q":11.63,"z":0}]},"transform":[{"calculate":"2110.5+106.2*datum.I+73.3*datum.Q","as":"u"},{"calculate":"1025-40.4*datum.I+47.6*datum.Q-18343*datum.z","as":"v"}],"mark":{"type":"text","fontSize":72,"color":"#222222","angle":325,"align":"center","baseline":"middle","font":"Liberation Sans"},"encoding":{"text":{"field":"label"}}},
{"data":{"values":[{"label":"(b)","I":-0.99,"Q":12.33,"z":0}]},"transform":[{"calculate":"2110.5+106.2*datum.I+73.3*datum.Q","as":"u"},{"calculate":"1025-40.4*datum.I+47.6*datum.Q-18343*datum.z","as":"v"}],"mark":{"type":"text","fontSize":60,"color":"#111111","align":"center","baseline":"middle","font":"Liberation Sans"},"encoding":{"text":{"field":"label"}}}
]}
]}
